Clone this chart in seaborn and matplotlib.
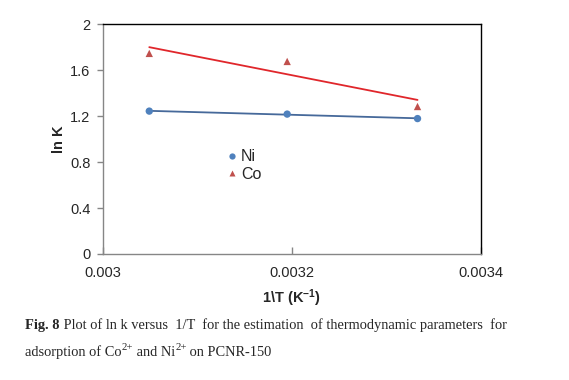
import numpy as np
import pandas as pd
import matplotlib
matplotlib.use("Agg")
import matplotlib.pyplot as plt
import seaborn as sns
from matplotlib.lines import Line2D

# ---- data ----
inv_T = [0.003049, 0.003195, 0.003333]
ni_lnk = [1.243, 1.217, 1.178]
co_lnk = [1.745, 1.675, 1.283]
series_names = ["Ni", "Co"]
x_ticks = [0.003, 0.0032, 0.0034]
x_tick_labels = ["0.003", "0.0032", "0.0034"]
y_ticks = [0, 0.4, 0.8, 1.2, 1.6, 2]
y_tick_labels = ["0", "0.4", "0.8", "1.2", "1.6", "2"]

sns.set_style("white")
plt.rcParams["font.family"] = ["Liberation Sans", "DejaVu Sans"]
plt.rcParams["mathtext.fontset"] = "custom"
plt.rcParams["mathtext.rm"] = "Liberation Sans"
plt.rcParams["mathtext.bf"] = "Liberation Sans:bold"
plt.rcParams["mathtext.it"] = "Liberation Sans:italic"

df = pd.DataFrame({"x": inv_T * 2, "y": ni_lnk + co_lnk,
                   "s": [series_names[0]] * 3 + [series_names[1]] * 3})

ni_col = "#4F81BD"
co_col = "#C0504D"
ni_line = "#46699A"
co_line = "#E0262B"

W, H = 569, 380
fig = plt.figure(figsize=(W / 100, H / 100), dpi=100)
ax = fig.add_axes([0.181, 0.3316, 0.664, 0.605])

sns.regplot(data=df[df.s == "Ni"], x="x", y="y", scatter=False, ci=None, ax=ax,
            line_kws=dict(color=ni_line, lw=1.3))
sns.regplot(data=df[df.s == "Co"], x="x", y="y", scatter=False, ci=None, ax=ax,
            line_kws=dict(color=co_line, lw=1.3))
sns.scatterplot(data=df, x="x", y="y", hue="s", style="s",
                palette={"Ni": ni_col, "Co": co_col},
                markers={"Ni": "o", "Co": "^"}, s=28, edgecolor="none",
                ax=ax, legend=False, zorder=5)

ax.set_xlim(0.003, 0.0034)
ax.set_ylim(0, 2)
ax.set_xticks(x_ticks)
ax.set_xticklabels(x_tick_labels)
ax.set_yticks(y_ticks)
ax.set_yticklabels(y_tick_labels)
ax.tick_params(axis="x", direction="in", length=5, width=1, color="#868686",
               pad=9, labelsize=10.5, bottom=True)
ax.tick_params(axis="y", direction="out", length=4, width=1, color="#868686",
               pad=5, labelsize=10.5, left=True)

for side in ["left", "bottom"]:
    ax.spines[side].set_color("#868686")
    ax.spines[side].set_linewidth(1)
for side in ["top", "right"]:
    ax.spines[side].set_color("black")
    ax.spines[side].set_linewidth(1)
    ax.spines[side].set_visible(True)

ax.set_xlabel(r"1\T (K$^{\mathbf{-1}}$)", fontsize=10.5, fontweight="bold", labelpad=5)
ax.set_ylabel("ln K", fontsize=10.5, fontweight="bold", labelpad=3)

handles = [Line2D([], [], marker="o", ls="none", color=ni_col, markersize=4.5, mec="none"),
           Line2D([], [], marker="^", ls="none", color=co_col, markersize=4.5, mec="none")]
ax.legend(handles, series_names, loc="center left", bbox_to_anchor=(0.33, 0.385),
          frameon=False, fontsize=11.5, handlelength=0.6, handletextpad=0.25,
          labelspacing=0.15, borderpad=0, borderaxespad=0)

# caption, assembled from segments (text, weight, superscript)
fs = 10.4
fig.canvas.draw()
renderer = fig.canvas.get_renderer()


def write_line(x_px, y_px, segments):
    x = x_px
    for txt, weight, sup in segments:
        size = fs * 0.75 if sup else fs
        yy = y_px - (4.5 if sup else 0)
        t = fig.text(x / W, 1 - yy / H, txt, fontsize=size, fontweight=weight,
                     family="Liberation Serif", va="center", ha="left")
        bb = t.get_window_extent(renderer=renderer)
        x = bb.x1


write_line(25, 325, [("Fig. 8", "bold", False),
                     (" Plot of ln k versus  1/T  for the estimation  of thermodynamic parameters  for",
                      "normal", False)])
write_line(25, 352, [("adsorption of Co", "normal", False), ("2+", "normal", True),
                     (" and Ni", "normal", False), ("2+", "normal", True),
                     (" on PCNR-150", "normal", False)])

fig.savefig("out.png", dpi=100)
